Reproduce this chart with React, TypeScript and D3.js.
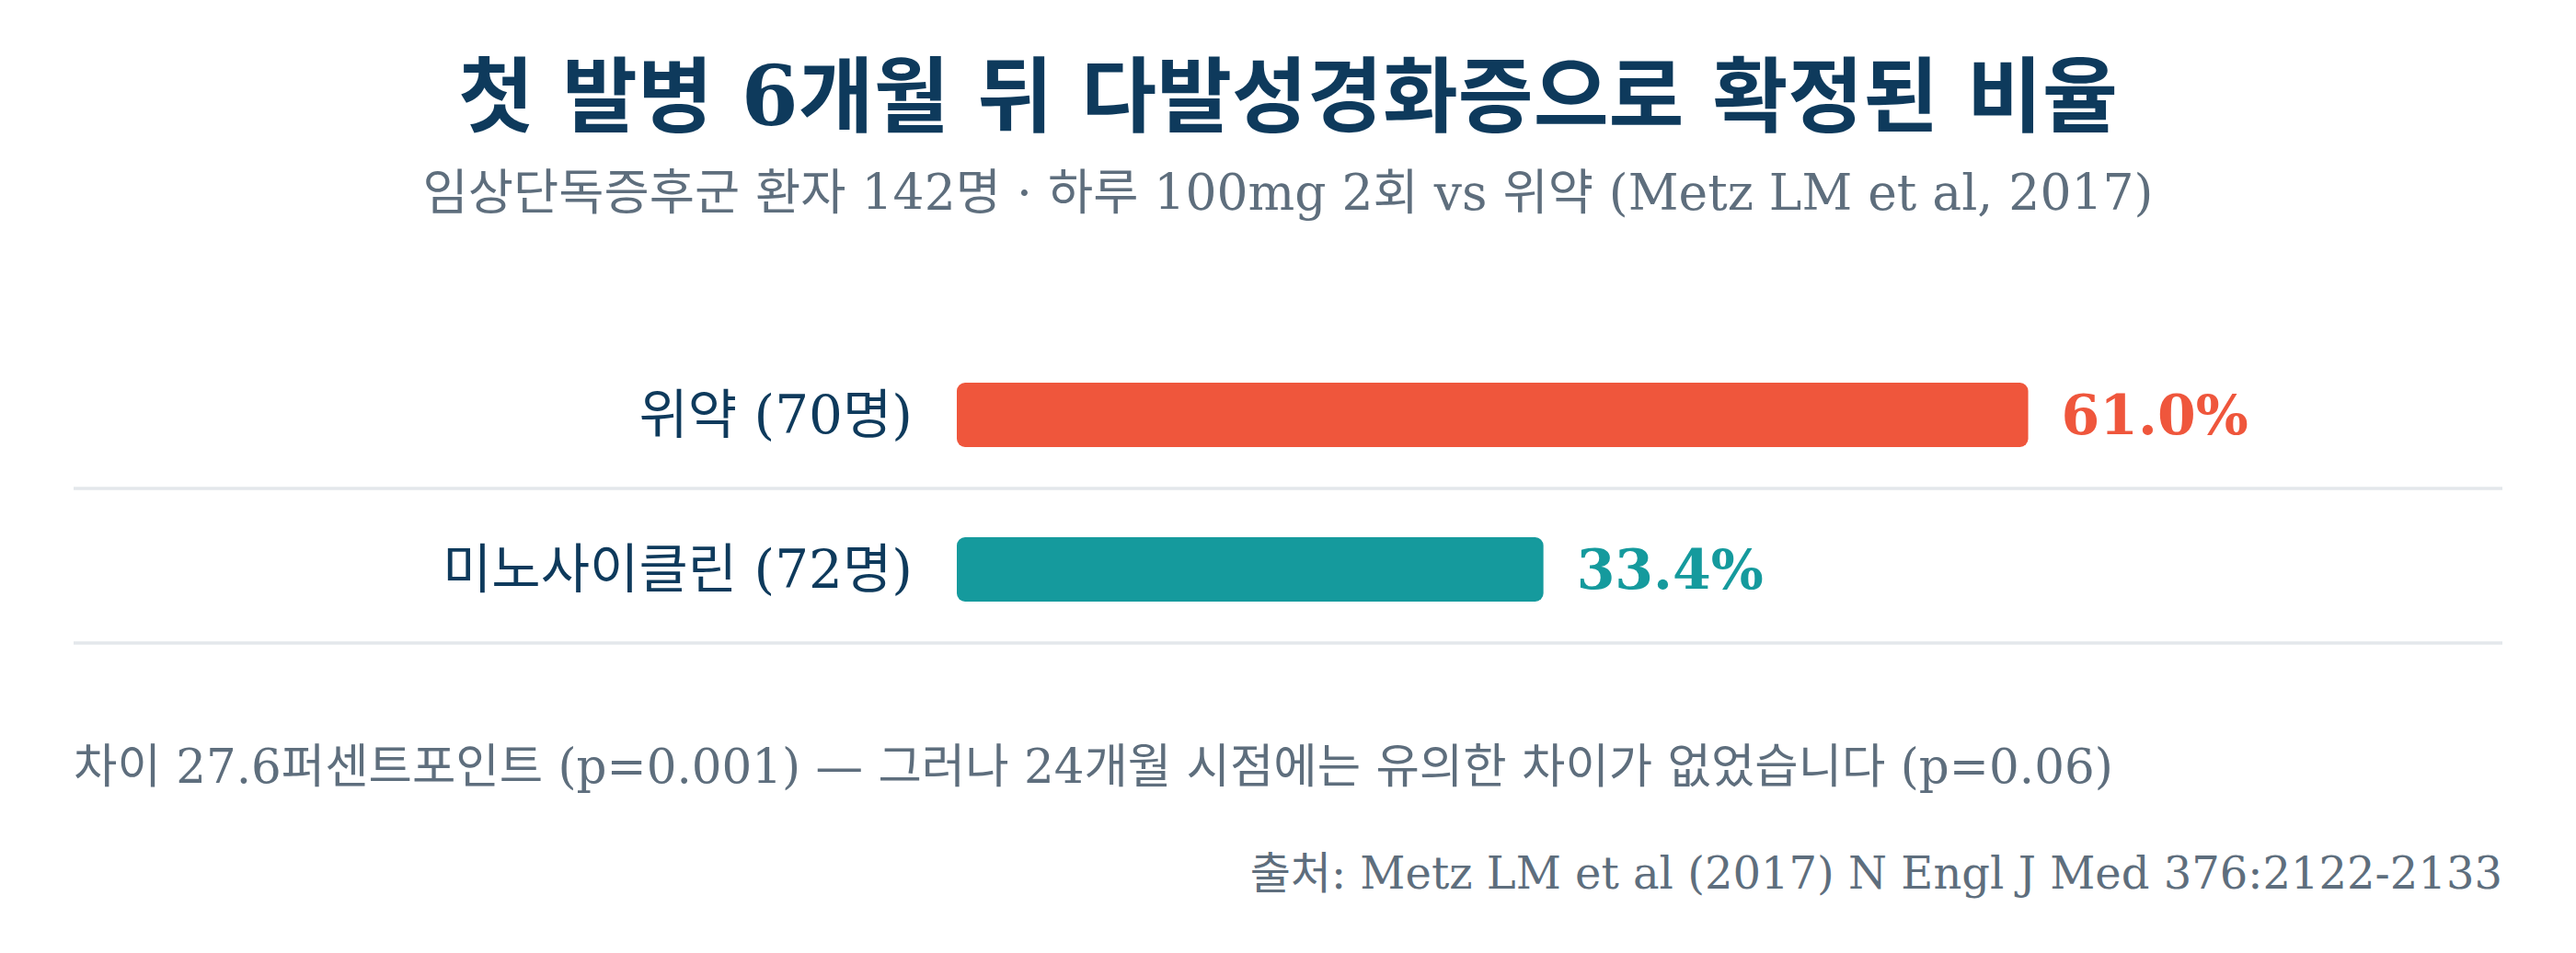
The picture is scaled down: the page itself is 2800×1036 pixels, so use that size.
import React from "react";
import * as d3 from "d3";

const W = 2800;
const H = 1036;

const categories = ["위약 (70명)", "미노사이클린 (72명)"];
const values = [61.0, 33.4];
const barColors = ["#EF563C", "#159A9D"];
const valueLabels = ["61.0%", "33.4%"];

const titleText = "첫 발병 6개월 뒤 다발성경화증으로 확정된 비율";
const subtitleText = "임상단독증후군 환자 142명 · 하루 100mg 2회 vs 위약 (Metz LM et al, 2017)";
const noteText = "차이 27.6퍼센트포인트 (p=0.001) — 그러나 24개월 시점에는 유의한 차이가 없었습니다 (p=0.06)";
const sourceText = "출처: Metz LM et al (2017) N Engl J Med 376:2122-2133";

const FONT = "'DejaVu Serif', 'Noto Sans CJK KR', serif";
const NAVY = "#0E3A5C";
const GRAY = "#5E6E7D";
const RULE = "#E3E7EB";

export default function App() {
  const x = d3.scaleLinear().domain([0, 88]).range([1040, 2720]);
  const y = d3.scaleBand<string>().domain(categories).range([367, 703]).padding(0);
  const bw = y.bandwidth();
  const barH = 70;

  return (
    <svg
      width={W}
      height={H}
      viewBox={`0 0 ${W} ${H}`}
      style={{ position: "absolute", left: 0, top: 0, background: "#fff" }}
      fontFamily={FONT}
    >
      <rect x={0} y={0} width={W} height={H} fill="#fff" />
      <text x={W / 2} y={136} textAnchor="middle" fontSize={89} fontWeight="bold" fill={NAVY}>
        {titleText}
      </text>
      <text x={W / 2} y={228} textAnchor="middle" fontSize={53.5} fill={GRAY}>
        {subtitleText}
      </text>

      {categories.map((c, i) => {
        const cy = (y(c) as number) + bw / 2;
        const x0 = x(0);
        const x1 = x(values[i]);
        return (
          <g key={c}>
            <text x={992} y={cy} textAnchor="end" dominantBaseline="central" fontSize={58} fill={NAVY}>
              {c}
            </text>
            <rect x={x0} y={cy - barH / 2} width={x1 - x0} height={barH} rx={9} ry={9} fill={barColors[i]} />
            <text
              x={x1 + 36}
              y={cy}
              dominantBaseline="central"
              fontSize={60}
              fontWeight="bold"
              fill={barColors[i]}
            >
              {valueLabels[i]}
            </text>
            <line x1={80} x2={2720} y1={cy + 80} y2={cy + 80} stroke={RULE} strokeWidth={3.5} />
          </g>
        );
      })}

      <text x={80} y={851} fontSize={51.5} fill={GRAY}>
        {noteText}
      </text>
      <text x={2720} y={966} textAnchor="end" fontSize={48} fill={GRAY}>
        {sourceText}
      </text>
    </svg>
  );
}
